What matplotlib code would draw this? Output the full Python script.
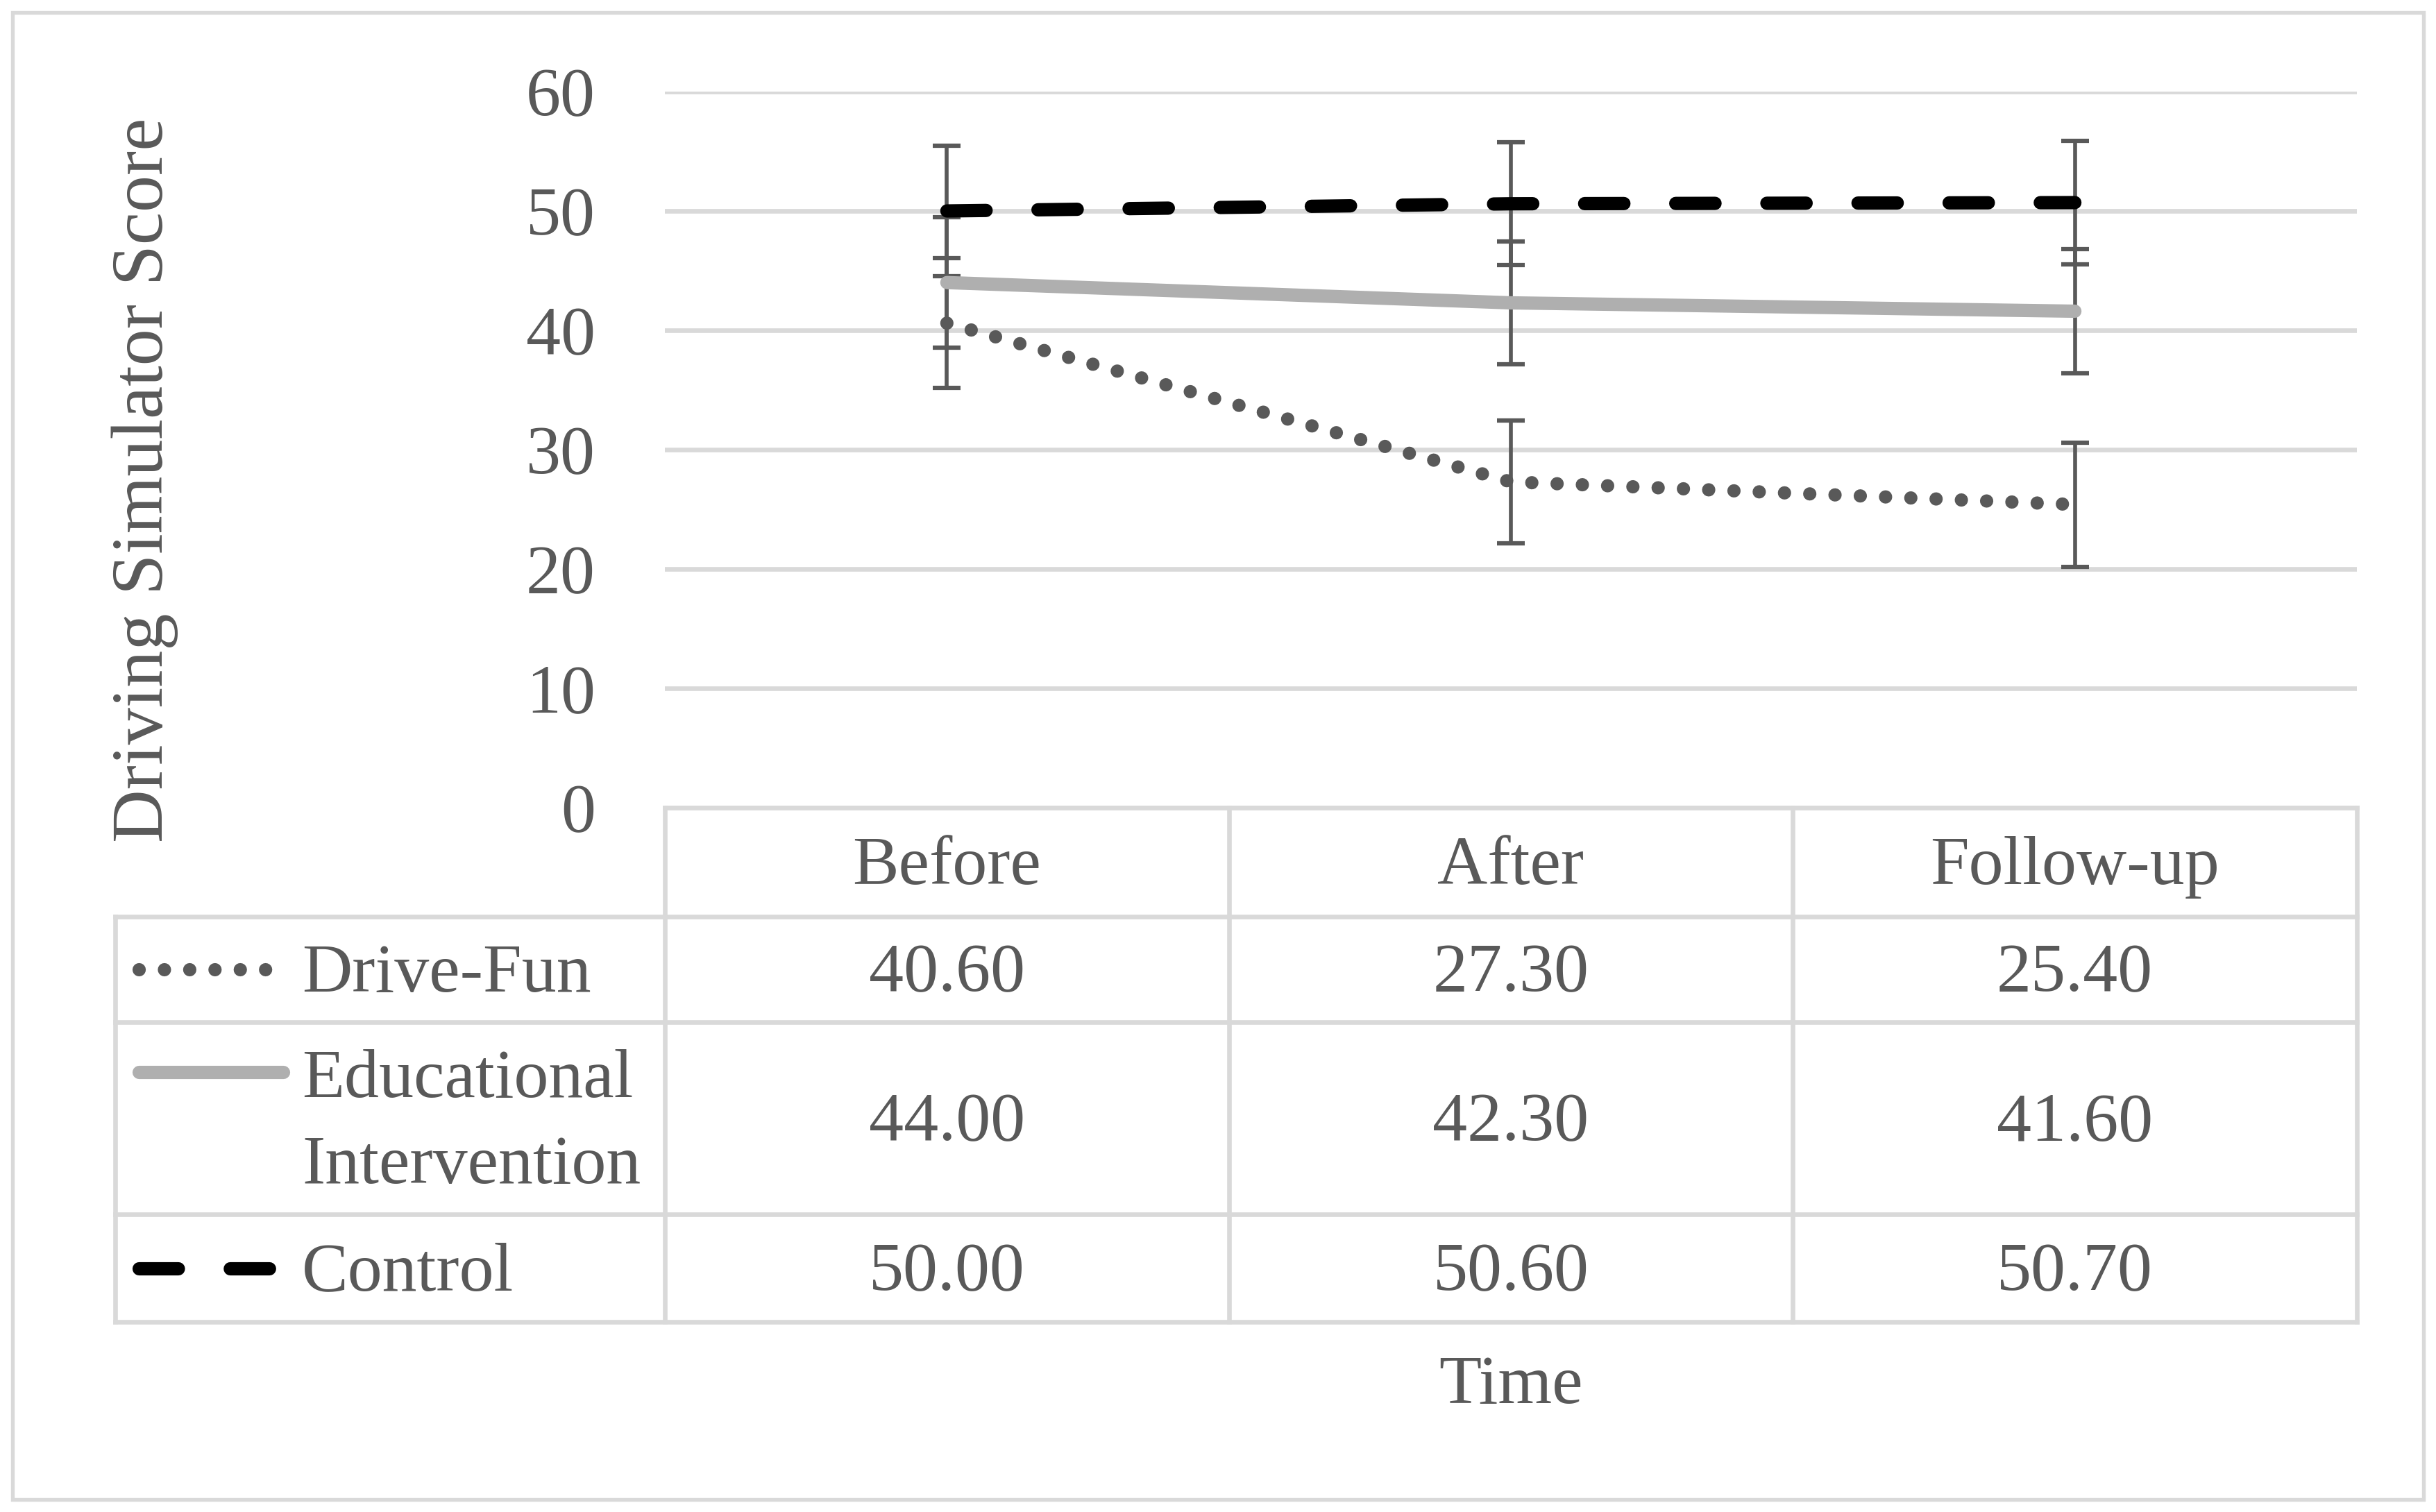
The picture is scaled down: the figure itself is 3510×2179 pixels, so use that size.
import matplotlib
matplotlib.use("Agg")
import matplotlib.pyplot as plt
from matplotlib.patches import Rectangle

# ---------------------------------------------------------------------------
# Data
# ---------------------------------------------------------------------------
periods = ["Before", "After", "Follow-up"]
drive_fun = [40.60, 27.30, 25.40]
educational = [44.00, 42.30, 41.60]
control = [50.00, 50.60, 50.70]
# error-bar half widths per time point (same for every group)
err = [5.45, 5.15, 5.20]
series_names = ["Drive-Fun", "Educational\nIntervention", "Control"]
y_ticks = [0, 10, 20, 30, 40, 50, 60]

# ---------------------------------------------------------------------------
# Look & layout (pixels of the 3510x2179 output)
# ---------------------------------------------------------------------------
W, H, DPI = 3510, 2179, 300
TXT = "#595959"
GRID = "#D9D9D9"
FONT = "Liberation Serif"
FS = 24
EM = 23 * DPI / 72
CAP_HALF = 0.33 * EM          # shift centre -> baseline

PL, PR, PT, PB = 958, 3396, 132, 1164   # plot area
TL = 166                                # table left edge
ROWS = [1164, 1321, 1473, 1750, 1905]   # table horizontal rules
KEY_X0, KEY_X1, LABEL_X = 200, 388, 435

LW = 4.6
STYLES = [
    dict(color="#595959", linestyle=(0, (0.001, 1.9)), dash_capstyle="round"),
    dict(color="#AFAFAF", linestyle="-", solid_capstyle="round"),
    dict(color="#000000", linestyle=(0, (2.95, 3.9)), dash_capstyle="round"),
]

plt.rcParams.update({
    "font.family": [FONT, "DejaVu Serif"],
    "font.size": FS,
    "text.color": TXT,
})

fig = plt.figure(figsize=(W / DPI, H / DPI), dpi=DPI)

# overlay in pixel coordinates for the data table / frame
ov = fig.add_axes([0, 0, 1, 1], zorder=0)
ov.set_xlim(0, W)
ov.set_ylim(H, 0)
ov.axis("off")

ax = fig.add_axes([PL / W, 1 - PB / H, (PR - PL) / W, (PB - PT) / H], zorder=1)
ax.set_facecolor("none")
for s in ax.spines.values():
    s.set_visible(False)
ax.set_ylim(0, 60)
ax.set_xlim(-0.5, len(periods) - 0.5)
ax.set_yticks(y_ticks)
ax.set_xticks([])
ax.yaxis.grid(True, color=GRID, lw=1.6)
ax.set_axisbelow(True)
ax.tick_params(axis="y", length=0, pad=24, labelsize=FS, labelcolor=TXT)

x = list(range(len(periods)))
series = [drive_fun, educational, control]
for vals in series:
    ax.errorbar(x, vals, yerr=err, fmt="none", ecolor=TXT, elinewidth=1.35,
                capsize=4.7, capthick=1.5, zorder=2, clip_on=False)
for vals, st in zip(series, STYLES):
    ax.plot(x, vals, lw=LW, zorder=3, clip_on=False, **st)

# y-axis title and x-axis title
fig.text(209 / W, 1 - 692 / H, "Driving Simulator Score", rotation=90,
         ha="center", va="center", fontsize=25.5, color=TXT)
ov.text((PL + PR) / 2, 1990 + CAP_HALF, "Time", ha="center", va="baseline",
        fontsize=FS, color=TXT)

# outer chart frame
ov.add_patch(Rectangle((18, 18), W - 36, H - 36, fill=False, ec=GRID, lw=1.3))

# ---------------------------------------------------------------------------
# Data table under the plot
# ---------------------------------------------------------------------------
cw = (PR - PL) / len(periods)
col_c = [PL + cw * (i + 0.5) for i in range(len(periods))]
tl = dict(color=GRID, lw=1.6, solid_capstyle="projecting")

ov.plot([PL, PR], [ROWS[0]] * 2, **tl)
for yy in ROWS[1:]:
    ov.plot([TL, PR], [yy] * 2, **tl)
for i in range(len(periods) + 1):
    ov.plot([PL + cw * i] * 2, [ROWS[0], ROWS[-1]], **tl)
ov.plot([TL, TL], [ROWS[1], ROWS[-1]], **tl)

hc = (ROWS[0] + ROWS[1]) / 2
for cx, p in zip(col_c, periods):
    ov.text(cx, hc + CAP_HALF, p, ha="center", va="baseline", fontsize=FS)

line_gap = 1.3 * EM
for r, (name, vals, st) in enumerate(zip(series_names, series, STYLES)):
    rc = (ROWS[r + 1] + ROWS[r + 2]) / 2
    for cx, v in zip(col_c, vals):
        ov.text(cx, rc + CAP_HALF, f"{v:.2f}", ha="center", va="baseline",
                fontsize=FS)
    n_lines = name.count("\n") + 1
    first = rc - (n_lines - 1) * line_gap / 2
    for k, part in enumerate(name.split("\n")):
        ov.text(LABEL_X, first + k * line_gap + CAP_HALF, part, ha="left",
                va="baseline", fontsize=FS)
    x1 = KEY_X1 + (20 if st["linestyle"] == "-" else 0)
    ov.plot([KEY_X0, x1], [first - 4 if n_lines > 1 else rc] * 2, lw=LW, **st)

fig.savefig("out.png", dpi=DPI, facecolor="white")
